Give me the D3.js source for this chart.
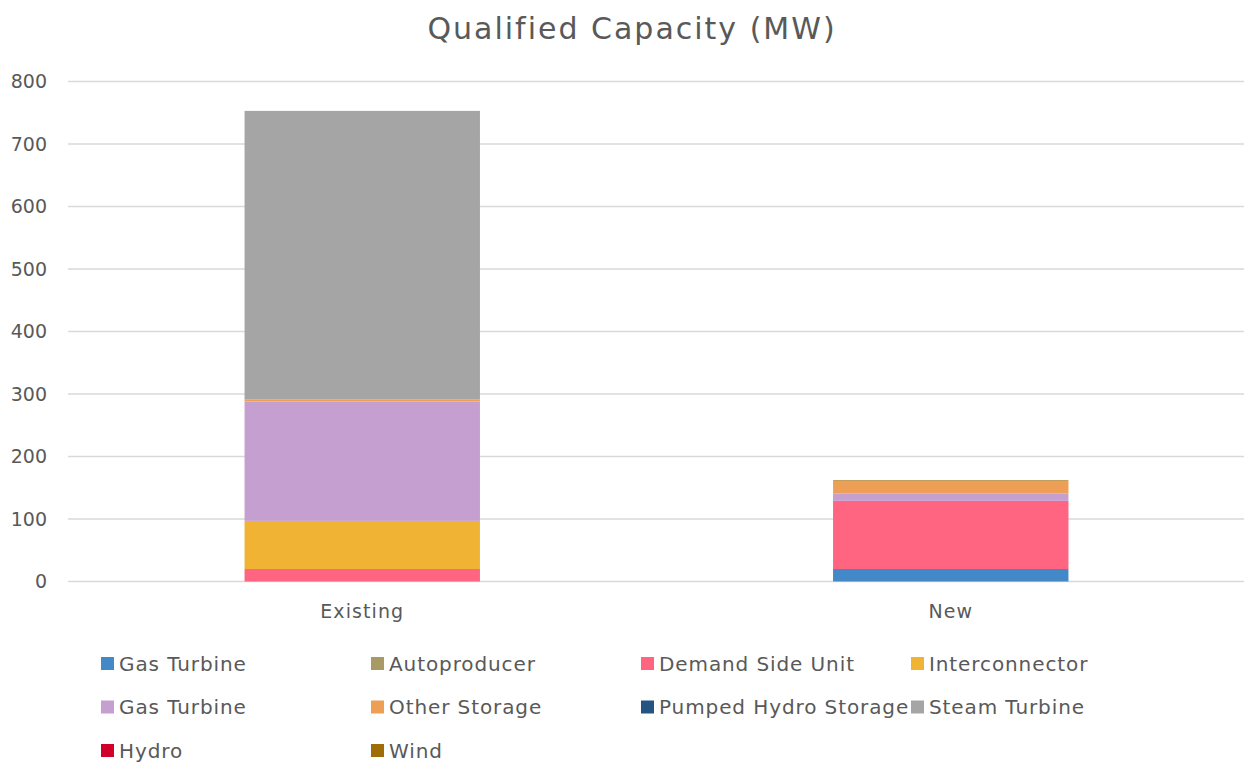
<!DOCTYPE html>
<html>
<head>
<meta charset="utf-8">
<script src="https://cdn.jsdelivr.net/npm/d3@7"></script>
<style>
  body { margin: 0; background: #fff; }
  text { font-family: "DejaVu Sans", sans-serif; fill: #595959; }
</style>
</head>
<body>
<div id="chart"></div>
<script>
var categories = ["Existing", "New"];
var seriesNames = ["Gas Turbine", "Autoproducer", "Demand Side Unit", "Interconnector",
  "Gas Turbine", "Other Storage", "Pumped Hydro Storage", "Steam Turbine", "Hydro", "Wind"];
var seriesColors = ["#4389c8", "#a89a64", "#ff6480", "#f0b334",
  "#c59fcf", "#eda055", "#255482", "#a5a5a5", "#d0002a", "#a06c08"];
// values per series: [Existing, New]
var gasTurbine = [0, 20];
var autoproducer = [0, 0];
var demandSideUnit = [20, 109];
var interconnector = [77, 0];
var gasTurbine2 = [191, 12];
var otherStorage = [3, 20];
var pumpedHydro = [0, 0];
var steamTurbine = [462, 0];
var hydro = [0, 0];
var wind = [0, 1];
var yTicks = [0, 100, 200, 300, 400, 500, 600, 700, 800];

var seriesValues = [gasTurbine, autoproducer, demandSideUnit, interconnector,
  gasTurbine2, otherStorage, pumpedHydro, steamTurbine, hydro, wind];

var svg_width = 1244, svg_height = 764;
var margin = {top: 81.5, right: 0, bottom: 182.5, left: 68};

var svg = d3.select("#chart").append("svg")
  .attr("width", svg_width)
  .attr("height", svg_height);

// build rows for the stack
var rows = categories.map(function(c, ci) {
  var r = {category: c};
  seriesValues.forEach(function(s, si) { r["s" + si] = s[ci]; });
  return r;
});
var keys = seriesValues.map(function(s, si) { return "s" + si; });
var stacked = d3.stack().keys(keys)(rows);

var x = d3.scaleBand()
  .domain(categories)
  .range([margin.left, svg_width + 1])
  .paddingInner(0.6)
  .paddingOuter(0.3);

var y = d3.scaleLinear()
  .domain([0, 800])
  .range([svg_height - margin.bottom, margin.top]);

// gridlines
svg.append("g").selectAll("line")
  .data(yTicks)
  .enter().append("line")
  .attr("x1", margin.left)
  .attr("x2", svg_width)
  .attr("y1", function(d) { return y(d); })
  .attr("y2", function(d) { return y(d); })
  .attr("stroke", "#d9d9d9")
  .attr("stroke-width", 1.5);

// y axis labels
var yAxis = d3.axisLeft(y).tickValues(yTicks).tickSize(0).tickPadding(21);
var yg = svg.append("g")
  .attr("transform", "translate(" + margin.left + ",0)")
  .call(yAxis);
yg.select(".domain").remove();
yg.selectAll("text").style("font-size", "19px").attr("fill", "#595959");

// bars
svg.append("g").selectAll("g")
  .data(stacked)
  .enter().append("g")
  .attr("fill", function(d, i) { return seriesColors[i]; })
  .selectAll("rect")
  .data(function(d) { return d; })
  .enter().append("rect")
  .attr("x", function(d) { return x(d.data.category); })
  .attr("width", x.bandwidth())
  .attr("y", function(d) { return y(d[1]); })
  .attr("height", function(d) { return y(d[0]) - y(d[1]); });

// category axis
var xAxis = d3.axisBottom(x).tickSize(0).tickPadding(23);
var xg = svg.append("g")
  .attr("transform", "translate(0," + y(0) + ")")
  .call(xAxis);
xg.select(".domain").remove();
xg.selectAll("text").style("font-size", "19px").style("letter-spacing", "1.1px").attr("fill", "#595959");

// title
svg.append("text")
  .attr("x", 632)
  .attr("y", 39)
  .attr("text-anchor", "middle")
  .style("font-size", "30px")
  .style("letter-spacing", "2px")
  .text("Qualified Capacity (MW)");

// legend
var legend = svg.append("g").selectAll("g")
  .data(seriesNames)
  .enter().append("g")
  .attr("transform", function(d, i) {
    return "translate(" + (101 + (i % 4) * 270) + "," + (657 + Math.floor(i / 4) * 43.5) + ")";
  });
legend.append("rect")
  .attr("width", 13)
  .attr("height", 13)
  .attr("fill", function(d, i) { return seriesColors[i]; });
legend.append("text")
  .attr("x", 18)
  .attr("y", 13.5)
  .style("font-size", "20px")
  .style("letter-spacing", "0.9px")
  .text(function(d) { return d; });
</script>
</body>
</html>
